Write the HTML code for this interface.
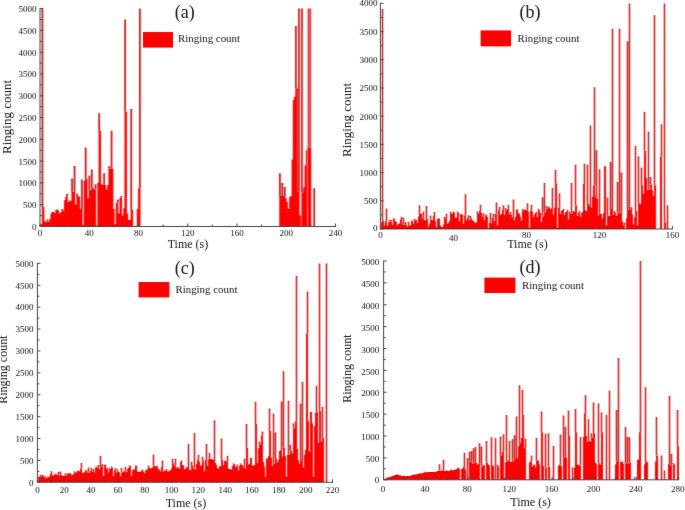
<!DOCTYPE html>
<html lang="en"><head><meta charset="utf-8"><title>Ringing count versus time</title>
<style>html,body{margin:0;padding:0;background:#fff}body{width:685px;height:510px;overflow:hidden}svg{display:block}text{font-family:"Liberation Serif","Times New Roman",serif;fill:#141414}</style></head><body>
<svg width="685" height="510" viewBox="0 0 685 510">
<defs><filter id="bl" x="0" y="0" width="685" height="510" filterUnits="userSpaceOnUse"><feConvolveMatrix order="3 1" kernelMatrix="0.18 0.64 0.18" edgeMode="none"/></filter>
<filter id="bt" x="0" y="0" width="685" height="510" filterUnits="userSpaceOnUse"><feConvolveMatrix order="3 3" kernelMatrix="0.01 0.05 0.01 0.05 0.76 0.05 0.01 0.05 0.01" edgeMode="none"/></filter></defs>
<rect width="685" height="510" fill="#fff"/>
<g filter="url(#bl)">
<path fill="#c80000" d="M41.65 206.89v-198.29h1.63v198.29zM46.58 221.71v-2.18h1.63v2.18zM52.75 212.12v-0.44h1.63v0.44zM56.45 209.94v-0.44h1.63v0.44zM61.38 210.81v-1.74h1.63v1.74zM66.32 196.87v-3.05h1.63v3.05zM68.78 201.22v-0.87h1.63v0.87zM71.25 191.64v-13.07h1.63v13.07zM73.72 191.64v-25.71h1.63v25.71zM76.18 195.99v-2.61h1.63v2.61zM81.12 209.07v-29.63h1.63v29.63zM84.82 178.56v-30.94h1.63v30.94zM88.52 190.33v-14.82h1.63v14.82zM90.98 187.28v-17.87h1.63v17.87zM94.68 189.46v-5.23h1.63v5.23zM98.38 131.06v-17.87h1.63v17.87zM103.32 185.1v-11.77h1.63v11.77zM108.25 168.54v-2.18h1.63v2.18zM110.72 168.54v-37.91h1.63v37.91zM116.88 202.53v-3.05h1.63v3.05zM120.58 197.74v-1.74h1.63v1.74zM124.28 111.45v-91.95h1.63v91.95zM130.45 209.94v-100.84h1.63v100.84zM139.08 188.15v-179.55h1.63v179.55zM279.05 195.99v-22.75h1.63v22.75zM281.52 195.99v-13.07h1.63v13.07zM283.98 195.99v-8.93h1.63v8.93zM295.08 88.13v-62.1h1.63v62.1zM298.18 191.64v-183.04h1.63v183.04zM301.15 192.73v-184.13h1.63v184.13zM313.38 226.5v-38.35h1.63v38.35z"/>
<path fill="#e44848" d="M307.52 148.06v-139.46h1.23v139.46zM308.75 148.06v-139.46h1.23v139.46zM309.98 148.06v-139.46h1.23v139.46z"/>
<path fill="#fd0000" d="M40.62 226.5v-2.61h1.23V226.5zM41.85 226.5v-19.61h1.23V226.5zM43.08 226.5v-19.61h1.23V226.5zM44.32 226.5v-5.23h1.23V226.5zM45.55 226.5v-4.36h1.23V226.5zM46.78 226.5v-4.79h1.23V226.5zM48.02 226.5v-4.79h1.23V226.5zM49.25 226.5v-7.41h1.23V226.5zM50.48 226.5v-13.07h1.23V226.5zM51.72 226.5v-14.38h1.23V226.5zM52.95 226.5v-14.38h1.23V226.5zM54.18 226.5v-13.51h1.23V226.5zM55.42 226.5v-16.56h1.23V226.5zM56.65 226.5v-16.56h1.23V226.5zM57.88 226.5v-16.12h1.23V226.5zM59.12 226.5v-13.07h1.23V226.5zM60.35 226.5v-14.38h1.23V226.5zM61.58 226.5v-15.69h1.23V226.5zM62.82 226.5v-15.69h1.23V226.5zM64.05 226.5v-26.15h1.23V226.5zM65.28 226.5v-29.63h1.23V226.5zM66.52 226.5v-29.63h1.23V226.5zM67.75 226.5v-24.4h1.23V226.5zM68.98 226.5v-25.28h1.23V226.5zM70.22 226.5v-25.28h1.23V226.5zM71.45 226.5v-34.86h1.23V226.5zM72.68 226.5v-34.86h1.23V226.5zM73.92 226.5v-34.86h1.23V226.5zM75.15 226.5v-21.79h1.23V226.5zM76.38 226.5v-30.51h1.23V226.5zM77.62 226.5v-30.51h1.23V226.5zM78.85 226.5v-29.63h1.23V226.5zM80.08 226.5v-17.43h1.23V226.5zM81.32 226.5v-17.43h1.23V226.5zM82.55 226.5v-1.31h1.23V226.5zM83.78 226.5v-45.76h1.23V226.5zM85.02 226.5v-47.94h1.23V226.5zM86.25 226.5v-47.94h1.23V226.5zM87.48 226.5v-28.33h1.23V226.5zM88.72 226.5v-36.17h1.23V226.5zM89.95 226.5v-36.17h1.23V226.5zM91.18 226.5v-39.22h1.23V226.5zM92.42 226.5v-39.22h1.23V226.5zM93.65 226.5v-37.04h1.23V226.5zM94.88 226.5v-37.04h1.23V226.5zM96.12 226.5v-0.87h1.23V226.5zM97.35 226.5v-43.58h1.23V226.5zM98.58 226.5v-95.44h1.23V226.5zM99.82 226.5v-95.44h1.23V226.5zM101.05 226.5v-42.27h1.23V226.5zM102.28 226.5v-41.4h1.23V226.5zM103.52 226.5v-41.4h1.23V226.5zM104.75 226.5v-41.4h1.23V226.5zM105.98 226.5v-37.04h1.23V226.5zM107.22 226.5v-41.4h1.23V226.5zM108.45 226.5v-57.96h1.23V226.5zM109.68 226.5v-57.96h1.23V226.5zM110.92 226.5v-57.96h1.23V226.5zM112.15 226.5v-57.96h1.23V226.5zM113.38 226.5v-17.43h1.23V226.5zM114.62 226.5v-2.18h1.23V226.5zM115.85 226.5v-23.97h1.23V226.5zM117.08 226.5v-23.97h1.23V226.5zM118.32 226.5v-13.07h1.23V226.5zM119.55 226.5v-28.76h1.23V226.5zM120.78 226.5v-28.76h1.23V226.5zM122.02 226.5v-10.9h1.23V226.5zM123.25 226.5v-18.3h1.23V226.5zM124.48 226.5v-115.05h1.23V226.5zM125.72 226.5v-115.05h1.23V226.5zM126.95 226.5v-13.07h1.23V226.5zM128.18 226.5v-6.54h1.23V226.5zM129.42 226.5v-6.54h1.23V226.5zM130.65 226.5v-16.56h1.23V226.5zM131.88 226.5v-16.56h1.23V226.5zM136.82 226.5v-17.43h1.23V226.5zM138.05 226.5v-38.35h1.23V226.5zM139.28 226.5v-38.35h1.23V226.5zM279.25 226.5v-30.51h1.23V226.5zM280.48 226.5v-30.51h1.23V226.5zM281.72 226.5v-30.51h1.23V226.5zM282.95 226.5v-30.51h1.23V226.5zM284.18 226.5v-30.51h1.23V226.5zM285.42 226.5v-28.33h1.23V226.5zM286.65 226.5v-24.4h1.23V226.5zM287.88 226.5v-17.43h1.23V226.5zM289.12 226.5v-29.2h1.23V226.5zM290.35 226.5v-30.51h1.23V226.5zM291.58 226.5v-67.11h1.23V226.5zM292.82 226.5v-126.38h1.23V226.5zM294.05 226.5v-129.87h1.23V226.5zM295.28 226.5v-138.37h1.23V226.5zM296.52 226.5v-138.37h1.23V226.5zM297.75 226.5v-34.86h1.23V226.5zM298.38 226.5v-34.86h1.23V226.5zM299.62 226.5v-10.9h1.23V226.5zM301.35 226.5v-33.77h1.23V226.5zM302.08 226.5v-33.77h1.23V226.5zM303.32 226.5v-39.22h1.23V226.5zM304.55 226.5v-61.01h1.23V226.5zM305.78 226.5v-76.26h1.23V226.5zM307.52 226.5v-78.44h1.23V226.5zM308.75 226.5v-78.44h1.23V226.5zM309.98 226.5v-78.44h1.23V226.5z"/>
<path fill="#c80000" d="M381.8 221.09v-212.05h1.4v212.05zM385.8 221.27v-12.85h1.4v12.85zM388.8 221.5v-1.57h1.4v1.57zM390.8 221.5v-1.46h1.4v1.46zM392.8 218.85v-0.56h1.4v0.56zM400.8 219.36v-2.49h1.4v2.49zM402.8 224.6v-6.88h1.4v6.88zM404.8 225.03v-2.74h1.4v2.74zM407.8 225.26v-3.46h1.4v3.46zM413.8 221.1v-2.1h1.4v2.1zM415.8 221.1v-1.45h1.4v1.45zM418.8 213.91v-8.6h1.4v8.6zM420.8 213.91v-0.46h1.4v0.46zM422.8 218.97v-7.45h1.4v7.45zM425.8 218.95v-13.07h1.4v13.07zM429.8 219.69v-4.23h1.4v4.23zM433.8 215.92v-3.84h1.4v3.84zM443.8 218.98v-2.1h1.4v2.1zM445.8 218.98v-5.21h1.4v5.21zM449.8 213.77v-1.92h1.4v1.92zM452.8 212.93v-1.53h1.4v1.53zM456.8 212.42v-0.91h1.4v0.91zM460.8 214.21v-0.44h1.4v0.44zM464.8 215.14v-20.83h1.4v20.83zM467.8 217.86v-2.67h1.4v2.67zM469.8 218.32v-2.29h1.4v2.29zM476.8 213.91v-2.39h1.4v2.39zM479.8 210.95v-6.2h1.4v6.2zM482.8 216.89v-3.68h1.4v3.68zM485.8 215.33v-0.71h1.4v0.71zM489.8 222.71v-9.62h1.4v9.62zM492.8 217.46v-3.69h1.4v3.69zM495.8 213.38v-10.88h1.4v10.88zM498.8 211.05v-4.05h1.4v4.05zM502.8 209.78v-4.47h1.4v4.47zM504.8 210.17v-1.85h1.4v1.85zM507.8 208.84v-3.81h1.4v3.81zM509.8 214.9v-2.81h1.4v2.81zM512.8 217.91v-18.52h1.4v18.52zM521.8 210.53v-1.27h1.4v1.27zM523.8 209.82v-0.53h1.4v0.53zM526.8 210.28v-6.94h1.4v6.94zM530.8 210.76v-5.73h1.4v5.73zM535.8 212.93v-1.08h1.4v1.08zM537.8 209.82v-1.01h1.4v1.01zM541.8 216.59v-19.46h1.4v19.46zM543.8 212.16v-29.13h1.4v29.13zM545.8 208.53v-2.37h1.4v2.37zM547.8 207.29v-0.76h1.4v0.76zM551.8 208.31v-20.2h1.4v20.2zM554.8 183.32v-13.54h1.4v13.54zM558.8 207.61v-14.42h1.4v14.42zM562.8 210.03v-1.02h1.4v1.02zM566.8 212.12v-2.3h1.4v2.3zM568.8 214.04v-2.13h1.4v2.13zM570.8 213.25v-30.22h1.4v30.22zM572.8 211.92v-0.87h1.4v0.87zM574.8 205.59v-40.89h1.4v40.89zM578.8 212.67v-1.56h1.4v1.56zM583.8 183.88v-20.02h1.4v20.02zM586.8 204.03v-39.32h1.4v39.32zM589.8 205.97v-80.46h1.4v80.46zM593.8 185.57v-98.36h1.4v98.36zM595.8 197.32v-47h1.4v47zM598.8 214.03v-44.7h1.4v44.7zM606.8 215.75v-18.33h1.4v18.33zM609.8 208.99v-46.99h1.4v46.99zM611.8 208.99v-180.15h1.4v180.15zM613.8 212.95v-1.93h1.4v1.93zM616.8 213.85v-31.94h1.4v31.94zM618.8 212.36v-183.52h1.4v183.52zM620.8 212.36v-39.76h1.4v39.76zM623.8 225.38v-2.91h1.4v2.91zM626.8 210.09v-168.9h1.4v168.9zM628.8 209.91v-206.51h1.4v206.51zM630.8 209.91v-2.63h1.4v2.63zM634.8 210.69v-64.88h1.4v64.88zM637.8 203.2v-47.01h1.4v47.01zM640.8 185.22v-17.7h1.4v17.7zM643.8 150.72v-38.92h1.4v38.92zM647.8 189.66v-58.18h1.4v58.18zM649.8 184.6v-7.49h1.4v7.49zM653.8 185.33v-170.08h1.4v170.08zM660.8 156.53v-32.32h1.4v32.32zM663.8 222.23v-218.83h1.4v218.83zM666.8 229v-23.69h1.4v23.69z"/>
<path fill="#fd0000" d="M381 229v-6.88h1V229zM382 229v-7.91h1V229zM383 229v-7.91h1V229zM384 229v-3.38h1V229zM385 229v-7.73h1V229zM386 229v-7.73h1V229zM387 229v-3.15h1V229zM388 229v-6.32h1V229zM389 229v-7.5h1V229zM390 229v-7.5h1V229zM391 229v-7.5h1V229zM392 229v-4.05h1V229zM393 229v-10.15h1V229zM394 229v-10.15h1V229zM395 229v-7.19h1V229zM396 229v-7.19h1V229zM397 229v-3.23h1V229zM398 229v-5.12h1V229zM399 229v-5.65h1V229zM400 229v-9.64h1V229zM401 229v-9.64h1V229zM402 229v-4.4h1V229zM403 229v-4.4h1V229zM404 229v-3.97h1V229zM405 229v-3.97h1V229zM406 229v-3.63h1V229zM407 229v-2.46h1V229zM408 229v-3.74h1V229zM409 229v-3.74h1V229zM410 229v-3.86h1V229zM411 229v-8.21h1V229zM412 229v-8.21h1V229zM413 229v-5.36h1V229zM414 229v-7.9h1V229zM415 229v-7.9h1V229zM416 229v-7.9h1V229zM417 229v-6.03h1V229zM418 229v-12.61h1V229zM419 229v-15.09h1V229zM420 229v-15.09h1V229zM421 229v-15.09h1V229zM422 229v-10.03h1V229zM423 229v-10.03h1V229zM424 229v-8.96h1V229zM425 229v-8.41h1V229zM426 229v-10.05h1V229zM427 229v-10.05h1V229zM428 229v-2.26h1V229zM429 229v-5.13h1V229zM430 229v-9.31h1V229zM431 229v-9.31h1V229zM432 229v-8.71h1V229zM433 229v-13.08h1V229zM434 229v-13.08h1V229zM435 229v-7.69h1V229zM436 229v-1.69h1V229zM437 229v-9.95h1V229zM438 229v-10.55h1V229zM439 229v-10.55h1V229zM440 229v-3.36h1V229zM441 229v-2.26h1V229zM442 229v-1.69h1V229zM443 229v-4.52h1V229zM444 229v-10.02h1V229zM445 229v-10.02h1V229zM446 229v-10.02h1V229zM447 229v-5.33h1V229zM448 229v-6.16h1V229zM449 229v-8.29h1V229zM450 229v-15.23h1V229zM451 229v-15.23h1V229zM452 229v-15.54h1V229zM453 229v-16.07h1V229zM454 229v-16.07h1V229zM455 229v-11.27h1V229zM456 229v-11.56h1V229zM457 229v-16.58h1V229zM458 229v-16.58h1V229zM459 229v-7.59h1V229zM460 229v-14.79h1V229zM461 229v-14.79h1V229zM462 229v-14.33h1V229zM463 229v-5.14h1V229zM464 229v-13.86h1V229zM465 229v-13.86h1V229zM466 229v-8.57h1V229zM467 229v-11.14h1V229zM468 229v-11.14h1V229zM469 229v-8.65h1V229zM470 229v-10.68h1V229zM471 229v-10.68h1V229zM472 229v-8.45h1V229zM473 229v-8.45h1V229zM474 229v-7.02h1V229zM475 229v-5.79h1V229zM476 229v-6.72h1V229zM477 229v-15.09h1V229zM478 229v-15.09h1V229zM479 229v-18.05h1V229zM480 229v-18.05h1V229zM481 229v-16.21h1V229zM482 229v-12.11h1V229zM483 229v-12.11h1V229zM484 229v-9.15h1V229zM485 229v-13.67h1V229zM486 229v-13.67h1V229zM487 229v-11.9h1V229zM488 229v-0.56h1V229zM489 229v-6.29h1V229zM490 229v-6.29h1V229zM491 229v-5.66h1V229zM492 229v-11.54h1V229zM493 229v-11.54h1V229zM494 229v-7.8h1V229zM495 229v-15.62h1V229zM496 229v-15.62h1V229zM497 229v-3.38h1V229zM498 229v-17.95h1V229zM499 229v-17.95h1V229zM500 229v-14.07h1V229zM501 229v-15.23h1V229zM502 229v-19.22h1V229zM503 229v-19.22h1V229zM504 229v-13.98h1V229zM505 229v-18.83h1V229zM506 229v-18.83h1V229zM507 229v-20.16h1V229zM508 229v-20.16h1V229zM509 229v-14.01h1V229zM510 229v-14.1h1V229zM511 229v-14.1h1V229zM512 229v-11.09h1V229zM513 229v-11.09h1V229zM514 229v-8.8h1V229zM515 229v-12.14h1V229zM516 229v-19.49h1V229zM517 229v-19.49h1V229zM518 229v-15.75h1V229zM519 229v-15.23h1V229zM520 229v-12.2h1V229zM521 229v-8.31h1V229zM522 229v-18.47h1V229zM523 229v-18.47h1V229zM524 229v-19.18h1V229zM525 229v-19.18h1V229zM526 229v-18.72h1V229zM527 229v-18.72h1V229zM528 229v-17.49h1V229zM529 229v-1.13h1V229zM530 229v-18.24h1V229zM531 229v-18.24h1V229zM532 229v-17.47h1V229zM533 229v-11.64h1V229zM534 229v-14.54h1V229zM535 229v-16.07h1V229zM536 229v-16.07h1V229zM537 229v-11.74h1V229zM538 229v-19.18h1V229zM539 229v-19.18h1V229zM540 229v-15.91h1V229zM541 229v-6.99h1V229zM542 229v-12.41h1V229zM543 229v-12.41h1V229zM544 229v-16.84h1V229zM545 229v-16.84h1V229zM546 229v-20.47h1V229zM547 229v-20.47h1V229zM548 229v-21.71h1V229zM549 229v-21.71h1V229zM550 229v-19.59h1V229zM551 229v-20.69h1V229zM552 229v-20.69h1V229zM553 229v-14.26h1V229zM554 229v-21.24h1V229zM555 229v-45.68h1V229zM556 229v-45.68h1V229zM557 229v-1.13h1V229zM558 229v-21.39h1V229zM559 229v-21.39h1V229zM560 229v-15.36h1V229zM561 229v-18.33h1V229zM562 229v-18.97h1V229zM563 229v-18.97h1V229zM564 229v-14.11h1V229zM565 229v-16.7h1V229zM566 229v-16.88h1V229zM567 229v-16.88h1V229zM568 229v-9.3h1V229zM569 229v-14.96h1V229zM570 229v-14.96h1V229zM571 229v-15.75h1V229zM572 229v-15.75h1V229zM573 229v-17.08h1V229zM574 229v-17.08h1V229zM575 229v-23.41h1V229zM576 229v-23.41h1V229zM577 229v-13.06h1V229zM578 229v-16.33h1V229zM579 229v-16.33h1V229zM580 229v-12.25h1V229zM581 229v-16.33h1V229zM582 229v-16.72h1V229zM583 229v-45.12h1V229zM584 229v-45.12h1V229zM585 229v-18.67h1V229zM586 229v-17.63h1V229zM587 229v-24.97h1V229zM588 229v-24.97h1V229zM589 229v-23.03h1V229zM590 229v-23.03h1V229zM591 229v-21.37h1V229zM592 229v-32.13h1V229zM593 229v-43.43h1V229zM594 229v-43.43h1V229zM595 229v-31.68h1V229zM596 229v-31.68h1V229zM597 229v-30.15h1V229zM598 229v-13.58h1V229zM599 229v-14.97h1V229zM600 229v-14.97h1V229zM601 229v-14.97h1V229zM602 229v-10.52h1V229zM603 229v-15.86h1V229zM604 229v-62.77h1V229zM605 229v-62.77h1V229zM606 229v-3.38h1V229zM607 229v-13.25h1V229zM608 229v-13.25h1V229zM609 229v-12.83h1V229zM610 229v-20.01h1V229zM611 229v-20.01h1V229zM612 229v-20.01h1V229zM613 229v-13.99h1V229zM614 229v-16.05h1V229zM615 229v-16.05h1V229zM616 229v-13.11h1V229zM617 229v-15.15h1V229zM618 229v-15.15h1V229zM619 229v-16.64h1V229zM620 229v-16.64h1V229zM621 229v-16.64h1V229zM622 229v-7.41h1V229zM623 229v-3.62h1V229zM624 229v-3.62h1V229zM626 229v-10.83h1V229zM627 229v-18.91h1V229zM628 229v-18.91h1V229zM629 229v-19.09h1V229zM630 229v-19.09h1V229zM631 229v-19.09h1V229zM632 229v-14.63h1V229zM633 229v-4.51h1V229zM634 229v-11.38h1V229zM635 229v-18.31h1V229zM636 229v-18.31h1V229zM637 229v-3.38h1V229zM638 229v-25.8h1V229zM639 229v-25.8h1V229zM640 229v-24.9h1V229zM641 229v-43.78h1V229zM642 229v-43.78h1V229zM643 229v-35.31h1V229zM644 229v-78.28h1V229zM645 229v-78.28h1V229zM646 229v-51.1h1V229zM647 229v-38.67h1V229zM648 229v-39.34h1V229zM649 229v-39.34h1V229zM650 229v-44.4h1V229zM651 229v-44.4h1V229zM652 229v-38.67h1V229zM653 229v-32.99h1V229zM654 229v-43.67h1V229zM655 229v-43.67h1V229zM660 229v-72.47h1V229zM661 229v-72.47h1V229zM664 229v-6.77h1V229zM665 229v-6.77h1V229z"/>
<path fill="#c80000" d="M37.8 477.06v-0.35h1.4v0.35zM39.8 476.86v-1.99h1.4v1.99zM41.8 476.08v-1.05h1.4v1.05zM44.8 477.54v-1.21h1.4v1.21zM46.8 477.2v-0.49h1.4v0.49zM50.8 474.08v-2.73h1.4v2.73zM54.8 474.48v-1.08h1.4v1.08zM57.8 474.92v-3.02h1.4v3.02zM59.8 474.72v-3.13h1.4v3.13zM64.8 475.45v-2.19h1.4v2.19zM67.8 473.65v-0.59h1.4v0.59zM69.8 474.07v-1.18h1.4v1.18zM73.8 472.35v-1.22h1.4v1.22zM76.8 470.91v-0.37h1.4v0.37zM80.8 468.58v-5.55h1.4v5.55zM82.8 472.42v-0.37h1.4v0.37zM84.8 470.26v-0.32h1.4v0.32zM87.8 472.51v-4.93h1.4v4.93zM90.8 470.48v-2.63h1.4v2.63zM92.8 471.98v-2.67h1.4v2.67zM95.8 467.49v-1h1.4v1zM97.8 467.73v-2.71h1.4v2.71zM99.8 466.45v-10.63h1.4v10.63zM101.8 466.45v-2.31h1.4v2.31zM104.8 464.7v-0.31h1.4v0.31zM106.8 468.64v-0.99h1.4v0.99zM108.8 468.94v-0.57h1.4v0.57zM110.8 467.48v-1.08h1.4v1.08zM114.8 470.37v-2.15h1.4v2.15zM116.8 471.77v-2.26h1.4v2.26zM120.8 472.44v-4.63h1.4v4.63zM124.8 470.59v-3.86h1.4v3.86zM128.8 465.94v-0.5h1.4v0.5zM132.8 469.54v-0.44h1.4v0.44zM141.8 470.18v-0.68h1.4v0.68zM147.8 467.53v-1.92h1.4v1.92zM152.8 465.69v-11.1h1.4v11.1zM155.8 466.28v-0.5h1.4v0.5zM161.8 467.08v-6.67h1.4v6.67zM165.8 470.5v-1.56h1.4v1.56zM168.8 470.56v-0.31h1.4v0.31zM171.8 463.29v-4.64h1.4v4.64zM174.8 465.4v-6.74h1.4v6.74zM177.8 467.29v-0.32h1.4v0.32zM180.8 461.99v-1.61h1.4v1.61zM185.8 467.96v-0.91h1.4v0.91zM187.8 467.96v-24.31h1.4v24.31zM190.8 465.35v-3.66h1.4v3.66zM193.8 468.73v-35.69h1.4v35.69zM197.8 459.47v-4.54h1.4v4.54zM201.8 460.43v-3.65h1.4v3.65zM205.8 460.12v-16.13h1.4v16.13zM208.8 458.73v-5.63h1.4v5.63zM213.8 460.07v-39.8h1.4v39.8zM218.8 466.34v-0.41h1.4v0.41zM220.8 459.85v-21.33h1.4v21.33zM226.8 461.4v-5.55h1.4v5.55zM232.8 464.12v-0.52h1.4v0.52zM236.8 465.73v-1.26h1.4v1.26zM239.8 464.62v-1.1h1.4v1.1zM243.8 467.24v-8.58h1.4v8.58zM245.8 447.71v-23.77h1.4v23.77zM254.8 424.07v-22.24h1.4v22.24zM258.8 445.02v-3.26h1.4v3.26zM261.8 435.24v-3.72h1.4v3.72zM268.8 430.64v-22.02h1.4v22.02zM272.8 463.67v-50.19h1.4v50.19zM274.8 458.23v-25.84h1.4v25.84zM280.8 450.21v-48.68h1.4v48.68zM282.8 447.48v-76.17h1.4v76.17zM287.8 454.45v-53.8h1.4v53.8zM289.8 450.85v-6.2h1.4v6.2zM292.8 428.62v-5.42h1.4v5.42zM295.8 421.27v-145.26h1.4v145.26zM299.8 461.1v-57.61h1.4v57.61zM301.8 461.1v-79.19h1.4v79.19zM306.8 333.54v-42.07h1.4v42.07zM315.8 411.99v-26.36h1.4v26.36zM318.8 411.19v-147.79h1.4v147.79zM321.8 437.92v-31.14h1.4v31.14zM325.8 482.3v-218.9h1.4v218.9z"/>
<path fill="#fd0000" d="M38 482.3v-5.24h1V482.3zM39 482.3v-5.24h1V482.3zM40 482.3v-5.44h1V482.3zM41 482.3v-5.44h1V482.3zM42 482.3v-6.22h1V482.3zM43 482.3v-6.22h1V482.3zM44 482.3v-4.76h1V482.3zM45 482.3v-4.76h1V482.3zM46 482.3v-4.1h1V482.3zM47 482.3v-5.1h1V482.3zM48 482.3v-5.1h1V482.3zM49 482.3v-5.89h1V482.3zM50 482.3v-8.22h1V482.3zM51 482.3v-8.22h1V482.3zM52 482.3v-6.91h1V482.3zM53 482.3v-6.78h1V482.3zM54 482.3v-7.82h1V482.3zM55 482.3v-7.82h1V482.3zM56 482.3v-7.8h1V482.3zM57 482.3v-7.38h1V482.3zM58 482.3v-7.38h1V482.3zM59 482.3v-6.37h1V482.3zM60 482.3v-7.58h1V482.3zM61 482.3v-7.58h1V482.3zM62 482.3v-6.63h1V482.3zM63 482.3v-6.27h1V482.3zM64 482.3v-6.85h1V482.3zM65 482.3v-6.85h1V482.3zM66 482.3v-6.54h1V482.3zM67 482.3v-8.65h1V482.3zM68 482.3v-8.65h1V482.3zM69 482.3v-8.23h1V482.3zM70 482.3v-8.23h1V482.3zM71 482.3v-7.1h1V482.3zM72 482.3v-7.26h1V482.3zM73 482.3v-8.26h1V482.3zM74 482.3v-9.95h1V482.3zM75 482.3v-9.95h1V482.3zM76 482.3v-9.61h1V482.3zM77 482.3v-11.39h1V482.3zM78 482.3v-11.39h1V482.3zM79 482.3v-10.89h1V482.3zM80 482.3v-13.72h1V482.3zM81 482.3v-13.72h1V482.3zM82 482.3v-8.96h1V482.3zM83 482.3v-9.88h1V482.3zM84 482.3v-9.88h1V482.3zM85 482.3v-12.04h1V482.3zM86 482.3v-12.04h1V482.3zM87 482.3v-9.79h1V482.3zM88 482.3v-9.79h1V482.3zM89 482.3v-9.45h1V482.3zM90 482.3v-11.82h1V482.3zM91 482.3v-11.82h1V482.3zM92 482.3v-10.32h1V482.3zM93 482.3v-10.32h1V482.3zM94 482.3v-9.84h1V482.3zM95 482.3v-14.81h1V482.3zM96 482.3v-14.81h1V482.3zM97 482.3v-14.57h1V482.3zM98 482.3v-14.57h1V482.3zM99 482.3v-13h1V482.3zM100 482.3v-15.85h1V482.3zM101 482.3v-15.85h1V482.3zM102 482.3v-15.85h1V482.3zM103 482.3v-6.35h1V482.3zM104 482.3v-17.6h1V482.3zM105 482.3v-17.6h1V482.3zM106 482.3v-13.66h1V482.3zM107 482.3v-13.66h1V482.3zM108 482.3v-9.75h1V482.3zM109 482.3v-13.36h1V482.3zM110 482.3v-13.36h1V482.3zM111 482.3v-14.82h1V482.3zM112 482.3v-14.82h1V482.3zM113 482.3v-6.13h1V482.3zM114 482.3v-11.93h1V482.3zM115 482.3v-11.93h1V482.3zM116 482.3v-9.47h1V482.3zM117 482.3v-10.53h1V482.3zM118 482.3v-10.53h1V482.3zM119 482.3v-10.06h1V482.3zM120 482.3v-6.13h1V482.3zM121 482.3v-9.86h1V482.3zM122 482.3v-9.86h1V482.3zM123 482.3v-10.58h1V482.3zM124 482.3v-11.71h1V482.3zM125 482.3v-11.71h1V482.3zM126 482.3v-10.13h1V482.3zM127 482.3v-13.27h1V482.3zM128 482.3v-14.25h1V482.3zM129 482.3v-16.36h1V482.3zM130 482.3v-16.36h1V482.3zM131 482.3v-6.35h1V482.3zM132 482.3v-12.13h1V482.3zM133 482.3v-12.76h1V482.3zM134 482.3v-12.76h1V482.3zM135 482.3v-16.87h1V482.3zM136 482.3v-16.87h1V482.3zM137 482.3v-10.69h1V482.3zM138 482.3v-10.66h1V482.3zM139 482.3v-10.66h1V482.3zM140 482.3v-10.61h1V482.3zM141 482.3v-12.12h1V482.3zM142 482.3v-12.12h1V482.3zM143 482.3v-10.72h1V482.3zM144 482.3v-9.06h1V482.3zM145 482.3v-12.02h1V482.3zM146 482.3v-12.02h1V482.3zM147 482.3v-13.66h1V482.3zM148 482.3v-14.77h1V482.3zM149 482.3v-14.77h1V482.3zM150 482.3v-13.5h1V482.3zM151 482.3v-14.31h1V482.3zM152 482.3v-14.81h1V482.3zM153 482.3v-16.61h1V482.3zM154 482.3v-16.61h1V482.3zM155 482.3v-15.75h1V482.3zM156 482.3v-16.02h1V482.3zM157 482.3v-16.02h1V482.3zM158 482.3v-12.99h1V482.3zM159 482.3v-12.99h1V482.3zM160 482.3v-10.9h1V482.3zM161 482.3v-15.22h1V482.3zM162 482.3v-15.22h1V482.3zM163 482.3v-10.85h1V482.3zM164 482.3v-11.8h1V482.3zM165 482.3v-11.8h1V482.3zM166 482.3v-11.8h1V482.3zM167 482.3v-11.05h1V482.3zM168 482.3v-10.69h1V482.3zM169 482.3v-11.74h1V482.3zM170 482.3v-11.74h1V482.3zM171 482.3v-14.15h1V482.3zM172 482.3v-19.01h1V482.3zM173 482.3v-19.01h1V482.3zM174 482.3v-16.9h1V482.3zM175 482.3v-16.9h1V482.3zM176 482.3v-13.97h1V482.3zM177 482.3v-15.01h1V482.3zM178 482.3v-15.01h1V482.3zM179 482.3v-13.22h1V482.3zM180 482.3v-20.31h1V482.3zM181 482.3v-20.31h1V482.3zM182 482.3v-17.01h1V482.3zM183 482.3v-17.01h1V482.3zM184 482.3v-13.13h1V482.3zM185 482.3v-13.13h1V482.3zM186 482.3v-14.34h1V482.3zM187 482.3v-14.34h1V482.3zM188 482.3v-14.34h1V482.3zM189 482.3v-13.06h1V482.3zM190 482.3v-11.82h1V482.3zM191 482.3v-16.95h1V482.3zM192 482.3v-16.95h1V482.3zM193 482.3v-13.57h1V482.3zM194 482.3v-13.57h1V482.3zM195 482.3v-12.8h1V482.3zM196 482.3v-18h1V482.3zM197 482.3v-22.83h1V482.3zM198 482.3v-22.83h1V482.3zM199 482.3v-20.54h1V482.3zM200 482.3v-16.15h1V482.3zM201 482.3v-17.36h1V482.3zM202 482.3v-21.87h1V482.3zM203 482.3v-21.87h1V482.3zM204 482.3v-10.94h1V482.3zM205 482.3v-22.18h1V482.3zM206 482.3v-22.18h1V482.3zM207 482.3v-16.34h1V482.3zM208 482.3v-22.88h1V482.3zM209 482.3v-23.57h1V482.3zM210 482.3v-23.57h1V482.3zM211 482.3v-23.17h1V482.3zM212 482.3v-23.17h1V482.3zM213 482.3v-22.23h1V482.3zM214 482.3v-22.23h1V482.3zM215 482.3v-19.48h1V482.3zM216 482.3v-17.58h1V482.3zM217 482.3v-13.94h1V482.3zM218 482.3v-13.82h1V482.3zM219 482.3v-15.96h1V482.3zM220 482.3v-15.96h1V482.3zM221 482.3v-22.45h1V482.3zM222 482.3v-22.45h1V482.3zM223 482.3v-17.02h1V482.3zM224 482.3v-21.49h1V482.3zM225 482.3v-21.49h1V482.3zM226 482.3v-20.9h1V482.3zM227 482.3v-20.9h1V482.3zM228 482.3v-13.49h1V482.3zM229 482.3v-13.29h1V482.3zM230 482.3v-12.77h1V482.3zM231 482.3v-12.71h1V482.3zM232 482.3v-16.32h1V482.3zM233 482.3v-18.18h1V482.3zM234 482.3v-18.18h1V482.3zM235 482.3v-15.07h1V482.3zM236 482.3v-16.57h1V482.3zM237 482.3v-16.57h1V482.3zM238 482.3v-11.68h1V482.3zM239 482.3v-16.63h1V482.3zM240 482.3v-17.68h1V482.3zM241 482.3v-17.68h1V482.3zM242 482.3v-17.4h1V482.3zM243 482.3v-15.06h1V482.3zM244 482.3v-15.06h1V482.3zM245 482.3v-13.55h1V482.3zM246 482.3v-34.59h1V482.3zM247 482.3v-34.59h1V482.3zM248 482.3v-17.49h1V482.3zM249 482.3v-18.66h1V482.3zM250 482.3v-24.4h1V482.3zM251 482.3v-24.4h1V482.3zM252 482.3v-16.89h1V482.3zM253 482.3v-16.6h1V482.3zM254 482.3v-17.29h1V482.3zM255 482.3v-58.23h1V482.3zM256 482.3v-58.23h1V482.3zM257 482.3v-19.15h1V482.3zM258 482.3v-34.04h1V482.3zM259 482.3v-37.28h1V482.3zM260 482.3v-37.28h1V482.3zM261 482.3v-47.06h1V482.3zM262 482.3v-47.06h1V482.3zM263 482.3v-20.53h1V482.3zM264 482.3v-15.71h1V482.3zM265 482.3v-5.25h1V482.3zM266 482.3v-23.86h1V482.3zM267 482.3v-23.86h1V482.3zM268 482.3v-26.02h1V482.3zM269 482.3v-51.66h1V482.3zM270 482.3v-51.66h1V482.3zM271 482.3v-24.23h1V482.3zM272 482.3v-16.53h1V482.3zM273 482.3v-18.63h1V482.3zM274 482.3v-18.63h1V482.3zM275 482.3v-24.07h1V482.3zM276 482.3v-24.07h1V482.3zM277 482.3v-19.59h1V482.3zM278 482.3v-22.64h1V482.3zM279 482.3v-31.3h1V482.3zM280 482.3v-32.09h1V482.3zM281 482.3v-32.09h1V482.3zM282 482.3v-25.73h1V482.3zM283 482.3v-34.82h1V482.3zM284 482.3v-34.82h1V482.3zM285 482.3v-25.97h1V482.3zM286 482.3v-5.25h1V482.3zM287 482.3v-27.45h1V482.3zM288 482.3v-27.85h1V482.3zM289 482.3v-27.85h1V482.3zM290 482.3v-31.45h1V482.3zM291 482.3v-31.45h1V482.3zM292 482.3v-28.64h1V482.3zM293 482.3v-53.68h1V482.3zM294 482.3v-53.68h1V482.3zM295 482.3v-61.03h1V482.3zM296 482.3v-61.03h1V482.3zM297 482.3v-33.18h1V482.3zM298 482.3v-22h1V482.3zM299 482.3v-18.52h1V482.3zM300 482.3v-21.2h1V482.3zM301 482.3v-21.2h1V482.3zM302 482.3v-21.2h1V482.3zM303 482.3v-14.7h1V482.3zM304 482.3v-27.34h1V482.3zM305 482.3v-32.65h1V482.3zM306 482.3v-148.76h1V482.3zM307 482.3v-148.76h1V482.3zM308 482.3v-61.03h1V482.3zM309 482.3v-30.65h1V482.3zM310 482.3v-70.31h1V482.3zM311 482.3v-70.31h1V482.3zM312 482.3v-59.1h1V482.3zM313 482.3v-5.25h1V482.3zM314 482.3v-56.01h1V482.3zM315 482.3v-69.39h1V482.3zM316 482.3v-70.31h1V482.3zM317 482.3v-70.31h1V482.3zM318 482.3v-39.4h1V482.3zM319 482.3v-71.11h1V482.3zM320 482.3v-71.11h1V482.3zM321 482.3v-40.54h1V482.3zM322 482.3v-44.38h1V482.3zM323 482.3v-44.38h1V482.3z"/>
<path fill="#c80000" d="M423.8 472.34v-0.49h1.4v0.49zM438.8 470.68v-6.55h1.4v6.55zM442.8 470.5v-10.74h1.4v10.74zM450.8 469.82v-0.33h1.4v0.33zM463.8 466.74v-13.94h1.4v13.94zM466.8 479.8v-21.44h1.4v21.44zM468.8 461.61v-9.82h1.4v9.82zM470.8 461.61v-10.69h1.4v10.69zM472.8 463.17v-14.87h1.4v14.87zM474.8 462.71v-15.73h1.4v15.73zM478.8 463.62v-20.49h1.4v20.49zM480.8 466.41v-19.87h1.4v19.87zM482.8 465.13v-0.5h1.4v0.5zM485.8 462.46v-21.52h1.4v21.52zM490.8 465.02v-27.67h1.4v27.67zM494.8 479.8v-41.57h1.4v41.57zM496.8 466.23v-1.46h1.4v1.46zM499.8 455.53v-19.05h1.4v19.05zM502.8 451.85v-17.56h1.4v17.56zM505.8 461.87v-46.83h1.4v46.83zM508.8 459.88v-18.76h1.4v18.76zM511.8 461.15v-21.92h1.4v21.92zM513.8 458.23v-23.07h1.4v23.07zM515.8 458.19v-41.67h1.4v41.67zM518.8 443.23v-58.08h1.4v58.08zM521.8 414.69v-24.68h1.4v24.68zM524.8 448.15v-9.66h1.4v9.66zM530.8 461.29v-5.69h1.4v5.69zM532.8 464.9v-0.31h1.4v0.31zM535.8 460.39v-22.47h1.4v22.47zM540.8 432.36v-20.83h1.4v20.83zM544.8 467.72v-34.04h1.4v34.04zM547.8 466.75v-33.46h1.4v33.46zM552.8 479.8v-33.87h1.4v33.87zM559.8 464.41v-29.81h1.4v29.81zM562.8 457.3v-41.7h1.4v41.7zM564.8 457.3v-30.54h1.4v30.54zM567.8 436.04v-25.47h1.4v25.47zM571.8 479.8v-12.38h1.4v12.38zM574.8 432.36v-23.28h1.4v23.28zM579.8 465.7v-28.7h1.4v28.7zM584.8 413.2v-18.07h1.4v18.07zM587.8 440.74v-21.42h1.4v21.42zM590.8 437.89v-4.6h1.4v4.6zM592.8 433.28v-30.72h1.4v30.72zM597.8 463.32v-59.8h1.4v59.8zM600.8 432.36v-19.95h1.4v19.95zM605.8 479.8v-65.11h1.4v65.11zM608.8 479.8v-89.23h1.4v89.23zM615.8 461.18v-51.13h1.4v51.13zM617.8 461.18v-103.29h1.4v103.29zM624.8 463.28v-36.51h1.4v36.51zM626.8 463.28v-26.62h1.4v26.62zM628.8 462.15v-24.8h1.4v24.8zM633.8 479.8v-2.63h1.4v2.63zM639.8 432.36v-171.36h1.4v171.36zM644.8 461.48v-74.32h1.4v74.32zM655.8 455.6v-38.68h1.4v38.68zM660.8 479.8v-24.2h1.4v24.2zM663.8 479.8v-9.28h1.4v9.28zM668.8 464.12v-68.43h1.4v68.43zM670.8 465.36v-11.6h1.4v11.6zM672.8 464.52v-1.22h1.4v1.22zM676.8 446.32v-36.28h1.4v36.28z"/>
<path fill="#fd0000" d="M384 479.8v-0.52h1V479.8zM385 479.8v-1.15h1V479.8zM386 479.8v-1.71h1V479.8zM387 479.8v-2.32h1V479.8zM388 479.8v-2.63h1V479.8zM389 479.8v-2.67h1V479.8zM390 479.8v-2.92h1V479.8zM391 479.8v-3.65h1V479.8zM392 479.8v-3.7h1V479.8zM393 479.8v-3.92h1V479.8zM394 479.8v-4.79h1V479.8zM395 479.8v-4.79h1V479.8zM396 479.8v-5.37h1V479.8zM397 479.8v-5.37h1V479.8zM398 479.8v-5.16h1V479.8zM399 479.8v-4.42h1V479.8zM400 479.8v-4.42h1V479.8zM401 479.8v-4.07h1V479.8zM402 479.8v-3.86h1V479.8zM403 479.8v-3.95h1V479.8zM404 479.8v-3.95h1V479.8zM405 479.8v-3.57h1V479.8zM406 479.8v-3.9h1V479.8zM407 479.8v-3.9h1V479.8zM408 479.8v-3.72h1V479.8zM409 479.8v-3.61h1V479.8zM410 479.8v-4.34h1V479.8zM411 479.8v-4.34h1V479.8zM412 479.8v-4.74h1V479.8zM413 479.8v-5.09h1V479.8zM414 479.8v-5.2h1V479.8zM415 479.8v-5.37h1V479.8zM416 479.8v-5.37h1V479.8zM417 479.8v-5.91h1V479.8zM418 479.8v-5.91h1V479.8zM419 479.8v-6.65h1V479.8zM420 479.8v-6.65h1V479.8zM421 479.8v-6.27h1V479.8zM422 479.8v-6.55h1V479.8zM423 479.8v-6.95h1V479.8zM424 479.8v-7.46h1V479.8zM425 479.8v-7.46h1V479.8zM426 479.8v-7.58h1V479.8zM427 479.8v-7.58h1V479.8zM428 479.8v-7.92h1V479.8zM429 479.8v-7.92h1V479.8zM430 479.8v-7.72h1V479.8zM431 479.8v-7.72h1V479.8zM432 479.8v-7.72h1V479.8zM433 479.8v-7.72h1V479.8zM434 479.8v-7.5h1V479.8zM435 479.8v-8.07h1V479.8zM436 479.8v-8.33h1V479.8zM437 479.8v-8.74h1V479.8zM438 479.8v-8.74h1V479.8zM439 479.8v-9.12h1V479.8zM440 479.8v-9.12h1V479.8zM441 479.8v-9.3h1V479.8zM442 479.8v-9.3h1V479.8zM443 479.8v-9.3h1V479.8zM444 479.8v-9.15h1V479.8zM445 479.8v-8.49h1V479.8zM446 479.8v-9.21h1V479.8zM447 479.8v-9.21h1V479.8zM448 479.8v-8.89h1V479.8zM449 479.8v-8.67h1V479.8zM450 479.8v-9.98h1V479.8zM451 479.8v-9.98h1V479.8zM452 479.8v-9.01h1V479.8zM453 479.8v-10.13h1V479.8zM454 479.8v-10.13h1V479.8zM455 479.8v-10.06h1V479.8zM456 479.8v-10.67h1V479.8zM457 479.8v-11.95h1V479.8zM458 479.8v-11.95h1V479.8zM459 479.8v-10.72h1V479.8zM461 479.8v-10.84h1V479.8zM462 479.8v-10.93h1V479.8zM463 479.8v-13.06h1V479.8zM464 479.8v-13.06h1V479.8zM465 479.8v-10.1h1V479.8zM469 479.8v-18.19h1V479.8zM470 479.8v-18.19h1V479.8zM471 479.8v-18.19h1V479.8zM472 479.8v-16.17h1V479.8zM473 479.8v-16.63h1V479.8zM474 479.8v-16.63h1V479.8zM475 479.8v-17.09h1V479.8zM476 479.8v-17.09h1V479.8zM477 479.8v-15.17h1V479.8zM478 479.8v-16.18h1V479.8zM479 479.8v-16.18h1V479.8zM481 479.8v-13.39h1V479.8zM482 479.8v-13.39h1V479.8zM483 479.8v-14.67h1V479.8zM484 479.8v-14.67h1V479.8zM486 479.8v-17.34h1V479.8zM487 479.8v-17.34h1V479.8zM488 479.8v-15.12h1V479.8zM489 479.8v-14.53h1V479.8zM491 479.8v-14.78h1V479.8zM492 479.8v-14.78h1V479.8zM493 479.8v-13.25h1V479.8zM497 479.8v-13.57h1V479.8zM498 479.8v-13.57h1V479.8zM500 479.8v-24.27h1V479.8zM501 479.8v-24.27h1V479.8zM502 479.8v-27.95h1V479.8zM503 479.8v-27.95h1V479.8zM504 479.8v-1.71h1V479.8zM505 479.8v-17.45h1V479.8zM506 479.8v-17.93h1V479.8zM507 479.8v-17.93h1V479.8zM508 479.8v-19.92h1V479.8zM509 479.8v-19.92h1V479.8zM510 479.8v-18.01h1V479.8zM511 479.8v-17.89h1V479.8zM512 479.8v-18.65h1V479.8zM513 479.8v-18.65h1V479.8zM514 479.8v-21.57h1V479.8zM515 479.8v-21.57h1V479.8zM516 479.8v-21.61h1V479.8zM517 479.8v-21.61h1V479.8zM518 479.8v-33.49h1V479.8zM519 479.8v-36.57h1V479.8zM520 479.8v-36.57h1V479.8zM521 479.8v-41.88h1V479.8zM522 479.8v-65.11h1V479.8zM523 479.8v-65.11h1V479.8zM524 479.8v-31.65h1V479.8zM525 479.8v-31.65h1V479.8zM529 479.8v-17.33h1V479.8zM530 479.8v-18.51h1V479.8zM531 479.8v-18.51h1V479.8zM532 479.8v-13.16h1V479.8zM533 479.8v-14.9h1V479.8zM534 479.8v-14.9h1V479.8zM535 479.8v-12.59h1V479.8zM536 479.8v-19.41h1V479.8zM537 479.8v-19.41h1V479.8zM538 479.8v-19.41h1V479.8zM539 479.8v-15.4h1V479.8zM541 479.8v-47.44h1V479.8zM542 479.8v-47.44h1V479.8zM543 479.8v-13.68h1V479.8zM545 479.8v-12.08h1V479.8zM546 479.8v-12.08h1V479.8zM548 479.8v-13.05h1V479.8zM549 479.8v-13.05h1V479.8zM558 479.8v-14.02h1V479.8zM559 479.8v-15.39h1V479.8zM560 479.8v-15.39h1V479.8zM561 479.8v-13.49h1V479.8zM563 479.8v-22.5h1V479.8zM564 479.8v-22.5h1V479.8zM565 479.8v-22.5h1V479.8zM566 479.8v-21.98h1V479.8zM568 479.8v-43.76h1V479.8zM569 479.8v-43.76h1V479.8zM574 479.8v-12.21h1V479.8zM575 479.8v-47.44h1V479.8zM576 479.8v-47.44h1V479.8zM577 479.8v-15.14h1V479.8zM578 479.8v-15.11h1V479.8zM579 479.8v-14.1h1V479.8zM580 479.8v-14.1h1V479.8zM583 479.8v-42.72h1V479.8zM584 479.8v-66.6h1V479.8zM585 479.8v-66.6h1V479.8zM586 479.8v-43.76h1V479.8zM587 479.8v-37.9h1V479.8zM588 479.8v-39.06h1V479.8zM589 479.8v-39.06h1V479.8zM590 479.8v-38.08h1V479.8zM591 479.8v-41.91h1V479.8zM592 479.8v-41.91h1V479.8zM593 479.8v-46.52h1V479.8zM594 479.8v-46.52h1V479.8zM595 479.8v-17.22h1V479.8zM596 479.8v-16.16h1V479.8zM598 479.8v-16.48h1V479.8zM599 479.8v-16.48h1V479.8zM600 479.8v-14.85h1V479.8zM601 479.8v-47.44h1V479.8zM602 479.8v-47.44h1V479.8zM615 479.8v-15.19h1V479.8zM616 479.8v-18.62h1V479.8zM617 479.8v-18.62h1V479.8zM618 479.8v-18.62h1V479.8zM620 479.8v-17.43h1V479.8zM621 479.8v-18.18h1V479.8zM622 479.8v-18.18h1V479.8zM623 479.8v-16.1h1V479.8zM625 479.8v-16.52h1V479.8zM626 479.8v-16.52h1V479.8zM627 479.8v-16.52h1V479.8zM628 479.8v-16.42h1V479.8zM629 479.8v-17.65h1V479.8zM630 479.8v-17.65h1V479.8zM637 479.8v-20.12h1V479.8zM638 479.8v-20.12h1V479.8zM639 479.8v-47.44h1V479.8zM640 479.8v-47.44h1V479.8zM644 479.8v-15.38h1V479.8zM645 479.8v-18.32h1V479.8zM646 479.8v-18.32h1V479.8zM647 479.8v-17.5h1V479.8zM655 479.8v-18.35h1V479.8zM656 479.8v-24.2h1V479.8zM657 479.8v-24.2h1V479.8zM668 479.8v-15.68h1V479.8zM669 479.8v-15.68h1V479.8zM670 479.8v-14.44h1V479.8zM671 479.8v-14.44h1V479.8zM673 479.8v-15.28h1V479.8zM674 479.8v-15.28h1V479.8zM677 479.8v-33.48h1V479.8zM678 479.8v-33.48h1V479.8z"/>
</g>
<g filter="url(#bt)">
<path d="M40 8.1V226.5H335.9" fill="none" stroke="#454545" stroke-width="1"/>
<path d="M40 226.5h3M40 204.71h3M40 182.92h3M40 161.13h3M40 139.34h3M40 117.55h3M40 95.76h3M40 73.97h3M40 52.18h3M40 30.39h3M40 8.6h3M40 215.6h2M40 193.81h2M40 172.03h2M40 150.24h2M40 128.44h2M40 106.66h2M40 84.87h2M40 63.07h2M40 41.28h2M40 19.5h2M40 226.5v-3M89.23 226.5v-3M138.47 226.5v-3M187.7 226.5v-3M236.93 226.5v-3M286.17 226.5v-3M335.4 226.5v-3M64.62 226.5v-2M113.85 226.5v-2M163.08 226.5v-2M212.32 226.5v-2M261.55 226.5v-2M310.78 226.5v-2" fill="none" stroke="#454545" stroke-width="1"/>
<text x="36.5" y="229.9" text-anchor="end" font-size="9">0</text>
<text x="36.5" y="208.11" text-anchor="end" font-size="9">500</text>
<text x="36.5" y="186.32" text-anchor="end" font-size="9">1000</text>
<text x="36.5" y="164.53" text-anchor="end" font-size="9">1500</text>
<text x="36.5" y="142.74" text-anchor="end" font-size="9">2000</text>
<text x="36.5" y="120.95" text-anchor="end" font-size="9">2500</text>
<text x="36.5" y="99.16" text-anchor="end" font-size="9">3000</text>
<text x="36.5" y="77.37" text-anchor="end" font-size="9">3500</text>
<text x="36.5" y="55.58" text-anchor="end" font-size="9">4000</text>
<text x="36.5" y="33.79" text-anchor="end" font-size="9">4500</text>
<text x="36.5" y="12" text-anchor="end" font-size="9">5000</text>
<text x="40" y="236.4" text-anchor="middle" font-size="9">0</text>
<text x="89.23" y="236.4" text-anchor="middle" font-size="9">40</text>
<text x="138.47" y="236.4" text-anchor="middle" font-size="9">80</text>
<text x="187.7" y="236.4" text-anchor="middle" font-size="9">120</text>
<text x="236.93" y="236.4" text-anchor="middle" font-size="9">160</text>
<text x="286.17" y="236.4" text-anchor="middle" font-size="9">200</text>
<text x="335.4" y="236.4" text-anchor="middle" font-size="9">240</text>
<text x="188" y="248" text-anchor="middle" font-size="12">Time (s)</text>
<text transform="translate(10.5 117) rotate(-90)" text-anchor="middle" font-size="13">Ringing count</text>
<text x="184.7" y="17.6" text-anchor="middle" font-size="18">(a)</text>
<rect x="143" y="32" width="30" height="15.6" fill="#fe0000"/>
<text x="178" y="42" font-size="10.9">Ringing count</text>
<path d="M380.4 2.9V229H672.9" fill="none" stroke="#454545" stroke-width="1"/>
<path d="M380.4 229h3M380.4 200.8h3M380.4 172.6h3M380.4 144.4h3M380.4 116.2h3M380.4 88h3M380.4 59.8h3M380.4 31.6h3M380.4 3.4h3M380.4 214.9h2M380.4 186.7h2M380.4 158.5h2M380.4 130.3h2M380.4 102.1h2M380.4 73.9h2M380.4 45.7h2M380.4 17.5h2M380.4 229v-3M453.4 229v-3M526.4 229v-3M599.4 229v-3M672.4 229v-3M416.9 229v-2M489.9 229v-2M562.9 229v-2M635.9 229v-2" fill="none" stroke="#454545" stroke-width="1"/>
<text x="377.4" y="230.6" text-anchor="end" font-size="9">0</text>
<text x="377.4" y="204.2" text-anchor="end" font-size="9">500</text>
<text x="377.4" y="176" text-anchor="end" font-size="9">1000</text>
<text x="377.4" y="147.8" text-anchor="end" font-size="9">1500</text>
<text x="377.4" y="119.6" text-anchor="end" font-size="9">2000</text>
<text x="377.4" y="91.4" text-anchor="end" font-size="9">2500</text>
<text x="377.4" y="63.2" text-anchor="end" font-size="9">3000</text>
<text x="377.4" y="35" text-anchor="end" font-size="9">3500</text>
<text x="377.4" y="5.9" text-anchor="end" font-size="9">4000</text>
<text x="380.4" y="238.1" text-anchor="middle" font-size="9">0</text>
<text x="453.4" y="241" text-anchor="middle" font-size="9">40</text>
<text x="526.4" y="238.4" text-anchor="middle" font-size="9">80</text>
<text x="599.4" y="238.4" text-anchor="middle" font-size="9">120</text>
<text x="672.4" y="238.4" text-anchor="middle" font-size="9">160</text>
<text x="527.5" y="248" text-anchor="middle" font-size="12">Time (s)</text>
<text transform="translate(350.6 120) rotate(-90)" text-anchor="middle" font-size="13">Ringing count</text>
<text x="530" y="18" text-anchor="middle" font-size="18">(b)</text>
<rect x="480.6" y="30.4" width="30.4" height="16" fill="#fe0000"/>
<text x="517.4" y="42" font-size="10.9">Ringing count</text>
<path d="M37.4 262.9V482.3H333" fill="none" stroke="#454545" stroke-width="1"/>
<path d="M37.4 482.3h3M37.4 460.41h3M37.4 438.52h3M37.4 416.63h3M37.4 394.74h3M37.4 372.85h3M37.4 350.96h3M37.4 329.07h3M37.4 307.18h3M37.4 285.29h3M37.4 263.4h3M37.4 471.36h2M37.4 449.47h2M37.4 427.57h2M37.4 405.69h2M37.4 383.8h2M37.4 361.9h2M37.4 340.01h2M37.4 318.12h2M37.4 296.24h2M37.4 274.35h2M37.4 482.3v-3M64.23 482.3v-3M91.05 482.3v-3M117.88 482.3v-3M144.71 482.3v-3M171.54 482.3v-3M198.36 482.3v-3M225.19 482.3v-3M252.02 482.3v-3M278.85 482.3v-3M305.67 482.3v-3M332.5 482.3v-3M50.81 482.3v-2M77.64 482.3v-2M104.47 482.3v-2M131.3 482.3v-2M158.12 482.3v-2M184.95 482.3v-2M211.78 482.3v-2M238.6 482.3v-2M265.43 482.3v-2M292.26 482.3v-2M319.09 482.3v-2" fill="none" stroke="#454545" stroke-width="1"/>
<text x="33.6" y="485.6" text-anchor="end" font-size="9">0</text>
<text x="33.6" y="463.71" text-anchor="end" font-size="9">500</text>
<text x="33.6" y="441.82" text-anchor="end" font-size="9">1000</text>
<text x="33.6" y="419.93" text-anchor="end" font-size="9">1500</text>
<text x="33.6" y="398.04" text-anchor="end" font-size="9">2000</text>
<text x="33.6" y="376.15" text-anchor="end" font-size="9">2500</text>
<text x="33.6" y="354.26" text-anchor="end" font-size="9">3000</text>
<text x="33.6" y="332.37" text-anchor="end" font-size="9">3500</text>
<text x="33.6" y="310.48" text-anchor="end" font-size="9">4000</text>
<text x="33.6" y="288.59" text-anchor="end" font-size="9">4500</text>
<text x="33.6" y="266.7" text-anchor="end" font-size="9">5000</text>
<text x="37.4" y="492.8" text-anchor="middle" font-size="9">0</text>
<text x="64.23" y="492.8" text-anchor="middle" font-size="9">20</text>
<text x="91.05" y="492.8" text-anchor="middle" font-size="9">40</text>
<text x="117.88" y="492.8" text-anchor="middle" font-size="9">60</text>
<text x="144.71" y="492.8" text-anchor="middle" font-size="9">80</text>
<text x="171.54" y="492.8" text-anchor="middle" font-size="9">100</text>
<text x="198.36" y="492.8" text-anchor="middle" font-size="9">120</text>
<text x="225.19" y="492.8" text-anchor="middle" font-size="9">140</text>
<text x="252.02" y="492.8" text-anchor="middle" font-size="9">160</text>
<text x="278.85" y="492.8" text-anchor="middle" font-size="9">180</text>
<text x="305.67" y="492.8" text-anchor="middle" font-size="9">200</text>
<text x="332.5" y="492.8" text-anchor="middle" font-size="9">220</text>
<text x="186" y="507" text-anchor="middle" font-size="12">Time (s)</text>
<text transform="translate(7.2 369.7) rotate(-90)" text-anchor="middle" font-size="12">Ringing count</text>
<text x="184.8" y="274" text-anchor="middle" font-size="18">(c)</text>
<rect x="138.6" y="282" width="30.8" height="15.4" fill="#fe0000"/>
<text x="175.4" y="292.6" font-size="10.9">Ringing count</text>
<path d="M383.6 260.5V479.8H679" fill="none" stroke="#454545" stroke-width="1"/>
<path d="M383.6 479.8h3M383.6 457.92h3M383.6 436.04h3M383.6 414.16h3M383.6 392.28h3M383.6 370.4h3M383.6 348.52h3M383.6 326.64h3M383.6 304.76h3M383.6 282.88h3M383.6 261h3M383.6 468.86h2M383.6 446.98h2M383.6 425.1h2M383.6 403.22h2M383.6 381.34h2M383.6 359.46h2M383.6 337.58h2M383.6 315.7h2M383.6 293.82h2M383.6 271.94h2M383.6 479.8v-3M425.73 479.8v-3M467.86 479.8v-3M509.99 479.8v-3M552.11 479.8v-3M594.24 479.8v-3M636.37 479.8v-3M678.5 479.8v-3M404.66 479.8v-2M446.79 479.8v-2M488.92 479.8v-2M531.05 479.8v-2M573.18 479.8v-2M615.31 479.8v-2M657.44 479.8v-2" fill="none" stroke="#454545" stroke-width="1"/>
<text x="379.2" y="483.4" text-anchor="end" font-size="9">0</text>
<text x="379.2" y="461.82" text-anchor="end" font-size="9">500</text>
<text x="379.2" y="440.24" text-anchor="end" font-size="9">1000</text>
<text x="379.2" y="418.36" text-anchor="end" font-size="9">1500</text>
<text x="379.2" y="396.48" text-anchor="end" font-size="9">2000</text>
<text x="379.2" y="374.6" text-anchor="end" font-size="9">2500</text>
<text x="379.2" y="352.72" text-anchor="end" font-size="9">3000</text>
<text x="379.2" y="330.84" text-anchor="end" font-size="9">3500</text>
<text x="379.2" y="308.96" text-anchor="end" font-size="9">4000</text>
<text x="379.2" y="287.08" text-anchor="end" font-size="9">4500</text>
<text x="379.2" y="265.2" text-anchor="end" font-size="9">5000</text>
<text x="382.9" y="491.6" text-anchor="middle" font-size="9">0</text>
<text x="425.03" y="491.6" text-anchor="middle" font-size="9">40</text>
<text x="467.16" y="491.6" text-anchor="middle" font-size="9">80</text>
<text x="509.29" y="491.6" text-anchor="middle" font-size="9">120</text>
<text x="551.41" y="491.6" text-anchor="middle" font-size="9">160</text>
<text x="593.54" y="491.6" text-anchor="middle" font-size="9">200</text>
<text x="635.67" y="491.6" text-anchor="middle" font-size="9">240</text>
<text x="677.8" y="491.6" text-anchor="middle" font-size="9">280</text>
<text x="530.6" y="506.4" text-anchor="middle" font-size="12">Time (s)</text>
<text transform="translate(350.5 368.6) rotate(-90)" text-anchor="middle" font-size="12">Ringing count</text>
<text x="530" y="273.4" text-anchor="middle" font-size="18">(d)</text>
<rect x="484.4" y="277.6" width="31" height="15.4" fill="#fe0000"/>
<text x="522" y="288.6" font-size="10.9">Ringing count</text>
</g>
</svg></body></html>
